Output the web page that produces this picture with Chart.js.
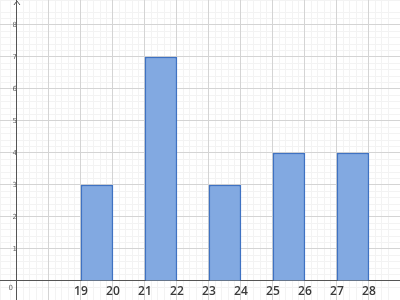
<!DOCTYPE html>
<html lang="en">
<head>
<meta charset="UTF-8">
<title>Histogram</title>
<style>
  body { margin: 0; background: #fff; }
  #wrap { width: 400px; height: 300px; }
</style>
<script src="https://cdn.jsdelivr.net/npm/chart.js"></script>
</head>
<body>
<div id="wrap"><canvas id="chart"></canvas></div>
<script>
// class intervals and their counts
const binStarts = [19, 21, 23, 25, 27];
const binEnds = [20, 22, 24, 26, 28];
const counts = [3, 7, 3, 4, 4];

// axes
const xGridValues = [17, 18, 19, 20, 21, 22, 23, 24, 25, 26, 27, 28];
const xTickLabels = ['19', '20', '21', '22', '23', '24', '25', '26', '27', '28'];
const yTickValues = [0, 1, 2, 3, 4, 5, 6, 7, 8];
const yTickLabels = ['', '1', '2', '3', '4', '5', '6', '7', '8'];

// visible window of the graph paper
const X_MIN = 16.47, X_MAX = 28.97;
const Y_MIN = -0.594, Y_MAX = 8.78;
const Y_AXIS_AT = 17;

const majorGrid = '#d4d4d4';
const minorGrid = '#f3f3f3';
const axisColor = '#555';

// keep the edge labels from shrinking the plot area
const noPadding = (scale) => {
    scale.paddingTop = 0; scale.paddingBottom = 0;
    scale.paddingLeft = 0; scale.paddingRight = 0;
};

const axisExtras = {
    id: 'axisExtras',
    afterDraw(chart) {
        const ctx = chart.ctx;
        const ox = chart.scales.x.getPixelForValue(Y_AXIS_AT);
        const oy = chart.scales.y.getPixelForValue(0);
        const top = chart.chartArea.top;
        ctx.save();
        ctx.fillStyle = '#666';
        ctx.font = '7px "DejaVu Sans"';
        ctx.textAlign = 'right';
        ctx.textBaseline = 'middle';
        ctx.fillText('0', ox - 4, oy + 7);
        // arrow head on the y axis
        ctx.strokeStyle = axisColor;
        ctx.lineWidth = 1;
        ctx.beginPath();
        ctx.moveTo(ox - 3, top + 5);
        ctx.lineTo(ox, top + 1);
        ctx.lineTo(ox + 3, top + 5);
        ctx.stroke();
        ctx.restore();
    }
};

const ctx = document.getElementById('chart').getContext('2d');
new Chart(ctx, {
    type: 'bar',
    data: {
        datasets: [{
            data: binStarts.map((s, i) => ({ x: (s + binEnds[i]) / 2, y: counts[i] })),
            backgroundColor: '#82a9e1',
            borderColor: '#3f72c2',
            borderWidth: 1.5,
            categoryPercentage: 1,
            barPercentage: 1,
            xAxisID: 'x',
            yAxisID: 'y'
        }]
    },
    options: {
        animation: false,
        responsive: true,
        maintainAspectRatio: false,
        layout: { padding: 0 },
        plugins: { legend: { display: false }, tooltip: { enabled: false } },
        scales: {
            xm: {
                type: 'linear', min: X_MIN, max: X_MAX, offset: false,
                afterFit: noPadding,
                ticks: { display: false, stepSize: 0.2 },
                grid: { color: minorGrid, drawTicks: false, offset: false, z: -2 },
                border: { display: false }
            },
            ym: {
                type: 'linear', min: Y_MIN, max: Y_MAX,
                afterFit: noPadding,
                ticks: { display: false, stepSize: 0.2 },
                grid: { color: minorGrid, drawTicks: false, z: -2 },
                border: { display: false }
            },
            x: {
                type: 'linear', min: X_MIN, max: X_MAX, offset: false,
                position: { y: 0 },
                afterFit: noPadding,
                afterBuildTicks: (scale) => { scale.ticks = xGridValues.map(v => ({ value: v })); },
                ticks: {
                    padding: 3,
                    color: '#3a3a3a',
                    font: { family: 'Open Sans', size: 12, weight: '600' },
                    maxRotation: 0,
                    autoSkip: false,
                    callback: (v) => xTickLabels.includes(String(v)) ? String(v) : ''
                },
                grid: { color: majorGrid, drawTicks: false, offset: false, z: -1 },
                border: { color: axisColor, width: 1 }
            },
            y: {
                type: 'linear', min: Y_MIN, max: Y_MAX,
                position: { x: Y_AXIS_AT },
                afterFit: noPadding,
                afterBuildTicks: (scale) => { scale.ticks = yTickValues.map(v => ({ value: v })); },
                ticks: {
                    padding: 4,
                    color: '#666',
                    font: { family: 'DejaVu Sans', size: 7 },
                    autoSkip: false,
                    callback: (v) => yTickLabels[yTickValues.indexOf(v)]
                },
                grid: { color: majorGrid, drawTicks: false, z: -1 },
                border: { color: axisColor, width: 1 }
            }
        }
    },
    plugins: [axisExtras]
});
</script>
</body>
</html>
